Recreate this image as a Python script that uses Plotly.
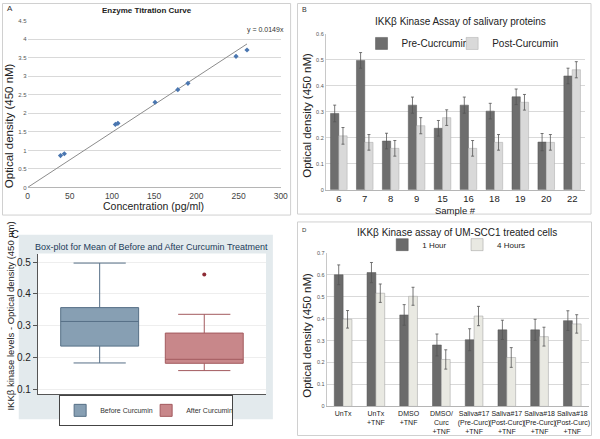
import plotly.graph_objects as go

# ---------------- data ----------------
# Panel A: enzyme titration
conc = [39, 43.5, 104, 107, 151, 178, 190, 247, 260]
od_a = [0.86, 0.91, 1.70, 1.73, 2.30, 2.64, 2.81, 3.54, 3.71]
slope = 0.0149

# Panel B: salivary proteins
samples = ["6", "7", "8", "9", "15", "16", "18", "19", "20", "22"]
pre = [0.293, 0.497, 0.187, 0.325, 0.236, 0.325, 0.302, 0.357, 0.183, 0.437]
post = [0.207, 0.182, 0.159, 0.246, 0.277, 0.159, 0.182, 0.336, 0.182, 0.461]
pre_err = [0.032, 0.030, 0.030, 0.031, 0.030, 0.031, 0.030, 0.030, 0.033, 0.030]
post_err = [0.032, 0.030, 0.030, 0.031, 0.030, 0.030, 0.030, 0.030, 0.030, 0.031]

# Panel D: UM-SCC1 treated cells
treatments = ["UnTx", "UnTx<br>+TNF", "DMSO<br>+TNF", "DMSO/<br>Curc<br>+TNF",
              "Saliva#17<br>(Pre-Curc)<br>+TNF", "Saliva#17<br>(Post-Curc)<br>+TNF",
              "Saliva#18<br>(Pre-Curc)<br>+TNF", "Saliva#18<br>(Post-Curc)<br>+TNF"]
hour1 = [0.600, 0.610, 0.417, 0.280, 0.304, 0.349, 0.349, 0.391]
hour4 = [0.397, 0.516, 0.502, 0.214, 0.412, 0.223, 0.318, 0.376]
hour1_err = [0.045, 0.046, 0.047, 0.050, 0.050, 0.044, 0.048, 0.045]
hour4_err = [0.040, 0.042, 0.041, 0.044, 0.044, 0.045, 0.043, 0.042]


# ---------------- helpers ----------------
W, H = 600, 439
FONT = "Liberation Sans, Arial, sans-serif"


def X(px):
    return px / W


def Y(py):
    return 1 - py / H


def stata_pct(vals, p):
    s = sorted(vals)
    n = len(s)
    k = n * p / 100.0
    i = int(k)
    if k == i:
        return (s[i - 1] + s[i]) / 2
    return s[i]


def box_stats(vals):
    q1 = stata_pct(vals, 25)
    med = stata_pct(vals, 50)
    q3 = stata_pct(vals, 75)
    iqr = q3 - q1
    lo = min(v for v in vals if v >= q1 - 1.5 * iqr)
    hi = max(v for v in vals if v <= q3 + 1.5 * iqr)
    outs = [v for v in vals if v < lo or v > hi]
    return q1, med, q3, lo, hi, outs


fig = go.Figure()

# ---------------- Panel A ----------------
line_x = [0, max(conc)]
fig.add_trace(go.Scatter(x=line_x, y=[slope * v for v in line_x], mode="lines",
                         line=dict(color="#8c8c8c", width=1), showlegend=False,
                         xaxis="x", yaxis="y"))
fig.add_trace(go.Scatter(x=conc, y=od_a, mode="markers",
                         marker=dict(symbol="diamond", size=4, color="#4a76b0"),
                         showlegend=False, xaxis="x", yaxis="y"))

# ---------------- Panel B ----------------
bw_b = 0.32
fig.add_trace(go.Bar(x=samples, y=pre, name="Pre-Cucrcumin", width=bw_b, offset=-bw_b,
                     marker=dict(color="#6e6e6e", line=dict(color="#555555", width=0.5)),
                     error_y=dict(type="data", array=pre_err, color="#555555", thickness=0.8, width=1.5),
                     xaxis="x2", yaxis="y2", legend="legend"))
fig.add_trace(go.Bar(x=samples, y=post, name="Post-Curcumin", width=bw_b, offset=0,
                     marker=dict(color="#d9d9d9", line=dict(color="#a8a8a8", width=0.5)),
                     error_y=dict(type="data", array=post_err, color="#555555", thickness=0.8, width=1.5),
                     xaxis="x2", yaxis="y2", legend="legend4"))

# ---------------- Panel C ----------------
box_names = ["Before Curcumin", "After Curcumin"]
box_fill = ["#879fb3", "#c8878a"]
box_line = ["#566f86", "#a35a5e"]
for i, (vals, nm) in enumerate(zip([pre, post], box_names)):
    q1, med, q3, lo, hi, outs = box_stats(vals)
    fig.add_trace(go.Box(x=[i], q1=[q1], median=[med], q3=[q3], lowerfence=[lo], upperfence=[hi],
                         orientation="v", width=0.745, whiskerwidth=0.67,
                         fillcolor=box_fill[i], line=dict(color=box_line[i], width=1),
                         boxpoints=False, name=nm, xaxis="x3", yaxis="y3", legend="legend3"))
    if outs:
        fig.add_trace(go.Scatter(x=[i] * len(outs), y=outs, mode="markers",
                                 marker=dict(size=4, color="#8e2c35"), showlegend=False,
                                 xaxis="x3", yaxis="y3"))

# ---------------- Panel D ----------------
bw_d = 0.27
fig.add_trace(go.Bar(x=treatments, y=hour1, name="1 Hour", width=bw_d, offset=-bw_d,
                     marker=dict(color="#6b6b6b", line=dict(color="#555555", width=0.5)),
                     error_y=dict(type="data", array=hour1_err, color="#555555", thickness=0.8, width=1.5),
                     xaxis="x4", yaxis="y4", legend="legend2"))
fig.add_trace(go.Bar(x=treatments, y=hour4, name="4 Hours", width=bw_d, offset=0,
                     marker=dict(color="#e9e9e2", line=dict(color="#9a9a9a", width=0.5)),
                     error_y=dict(type="data", array=hour4_err, color="#555555", thickness=0.8, width=1.5),
                     xaxis="x4", yaxis="y4", legend="legend5"))

grid = "#d9d9d9"


def leg(px, py, size, **kw):
    d = dict(orientation="h", x=X(px), y=Y(py), xanchor="left", yanchor="middle",
             font=dict(size=size, color="#222"), bgcolor="rgba(0,0,0,0)", itemwidth=30)
    d.update(kw)
    return d


fig.update_layout(
    width=W, height=H, margin=dict(l=0, r=0, t=0, b=0),
    paper_bgcolor="white", plot_bgcolor="rgba(0,0,0,0)",
    font=dict(family=FONT, color="#333333"),
    barmode="overlay",
    # A
    xaxis=dict(domain=[X(26), X(283)], range=[0, 300], tickvals=[0, 50, 100, 150, 200, 250, 300],
               showgrid=False, zeroline=False, showline=True, linecolor="#b5b5b5",
               tickfont=dict(size=8.5, color="#444"), anchor="y", ticks="", ticklen=0),
    yaxis=dict(domain=[Y(187), Y(18)], range=[0, 4.5], dtick=0.5,
               showgrid=True, gridcolor=grid, gridwidth=0.8, zeroline=False, showline=False,
               tickfont=dict(size=6, color="#555"), anchor="x"),
    # B
    xaxis2=dict(domain=[X(328.8), X(592)], range=[-0.5, 9.5], type="category",
                showgrid=False, showline=True, linecolor="#b5b5b5", ticks="", ticklen=0,
                tickangle=0, tickfont=dict(size=9.5, color="#222"), anchor="y2"),
    yaxis2=dict(domain=[Y(189.3), Y(31)], range=[0, 0.6], dtick=0.1,
                showgrid=True, gridcolor=grid, gridwidth=0.8, zeroline=False,
                showline=True, linecolor="#c8c8c8",
                tickfont=dict(size=5.5, color="#555"), anchor="x2"),
    # C
    xaxis3=dict(domain=[X(36.5), X(268)], range=[-0.59, 1.59], showticklabels=False,
                showgrid=False, zeroline=False, showline=True, linecolor="#555555", ticks="",
                anchor="y3"),
    yaxis3=dict(domain=[Y(396.7), Y(254)], range=[0.0846, 0.527], tickvals=[0.1, 0.2, 0.3, 0.4, 0.5],
                tickformat=".1f", showgrid=True, gridcolor="#eeeeee", zeroline=False,
                showline=True, linecolor="#555555", ticks="outside", ticklen=4, tickcolor="#555",
                tickfont=dict(size=10, color="#222"), anchor="x3"),
    # D
    xaxis4=dict(domain=[X(329.7), X(595.6)], range=[-0.5, 7.5], type="category",
                showgrid=False, showline=True, linecolor="#b5b5b5", ticks="", ticklen=0,
                tickangle=0, tickfont=dict(size=7, color="#222"), anchor="y4"),
    yaxis4=dict(domain=[Y(409), Y(253.3)], range=[0, 0.7], dtick=0.1,
                showgrid=True, gridcolor=grid, gridwidth=0.8, zeroline=False,
                showline=True, linecolor="#c8c8c8",
                tickfont=dict(size=5.5, color="#555"), anchor="x4"),
    legend=leg(365, 41, 10),
    legend4=leg(457, 41, 10),
    legend2=leg(386, 245, 8),
    legend5=leg(462, 245, 8),
    legend3=leg(58, 413, 7, bgcolor="white", bordercolor="#444", borderwidth=1,
                entrywidth=41, font=dict(size=7, color="#333")),
)

shapes = [
    # frames
    dict(type="rect", xref="paper", yref="paper", x0=X(0.5), x1=X(293), y0=Y(215), y1=Y(0.5),
         line=dict(color="#d0d0d0", width=1), layer="below"),
    dict(type="rect", xref="paper", yref="paper", x0=X(300), x1=X(598), y0=Y(214), y1=Y(0.5),
         line=dict(color="#d0d0d0", width=1), layer="below"),
    dict(type="rect", xref="paper", yref="paper", x0=X(300), x1=X(598.5), y0=Y(438.5), y1=Y(222),
         line=dict(color="#d0d0d0", width=1), layer="below"),
    # C graph region tint and white plot region
    dict(type="rect", xref="paper", yref="paper", x0=X(17), x1=X(275), y0=Y(422), y1=Y(235),
         line=dict(width=0), fillcolor="#e3eaed", layer="below"),
    dict(type="rect", xref="paper", yref="paper", x0=X(36.5), x1=X(268), y0=Y(396.7), y1=Y(254),
         line=dict(width=0), fillcolor="white", layer="below"),
]
fig.update_layout(shapes=shapes)


def ann(text, px, py, size, color="#333", bold=False, angle=0, xanchor="center"):
    if bold:
        text = "<b>" + text + "</b>"
    return dict(text=text, x=X(px), y=Y(py), xref="paper", yref="paper", showarrow=False,
                font=dict(size=size, color=color, family=FONT), textangle=angle,
                xanchor=xanchor, yanchor="middle")


annotations = [
    ann("A", 3, 6, 8, xanchor="left"),
    ann("Enzyme Titration Curve", 147, 8, 8, color="#222", bold=True),
    ann(f"y = {slope}x", 268, 27, 7),
    ann("Concentration (pg/ml)", 154, 206, 10.5, color="#222"),
    ann("Optical density (450 nM)", 7, 124, 11.5, color="#222", angle=-90),
    ann("B", 303, 7, 7, xanchor="left"),
    ann("IKK\u03b2 Kinase Assay of salivary proteins", 465, 19, 10, color="#222"),
    ann("Sample #", 460, 210, 9.5, color="#222"),
    ann("Optical density (450 nM)", 310, 114, 11.5, color="#222", angle=-90),
    ann("C", 7, 234, 11, color="#222", xanchor="left"),
    ann("Box-plot for Mean of Before and After Curcumin Treatment", 152, 247, 9, color="#1c3b5a"),
    ann("IKK\u03b2 kinase levels - Optical density (450 nm)", 9, 317, 9.5, color="#222", angle=-90),
    ann("D", 303, 230, 6, xanchor="left"),
    ann("IKK\u03b2 Kinase assay of UM-SCC1 treated cells", 462, 233, 10, color="#222"),
    ann("Optical density (450 nM)", 310, 337, 11.5, color="#222", angle=-90),
]
fig.update_layout(annotations=annotations)

# the page's default 8px body margin would otherwise shift the whole figure
fig.write_html("out.html", config={"displayModeBar": False},
               post_script="document.body.style.margin='0px';")
